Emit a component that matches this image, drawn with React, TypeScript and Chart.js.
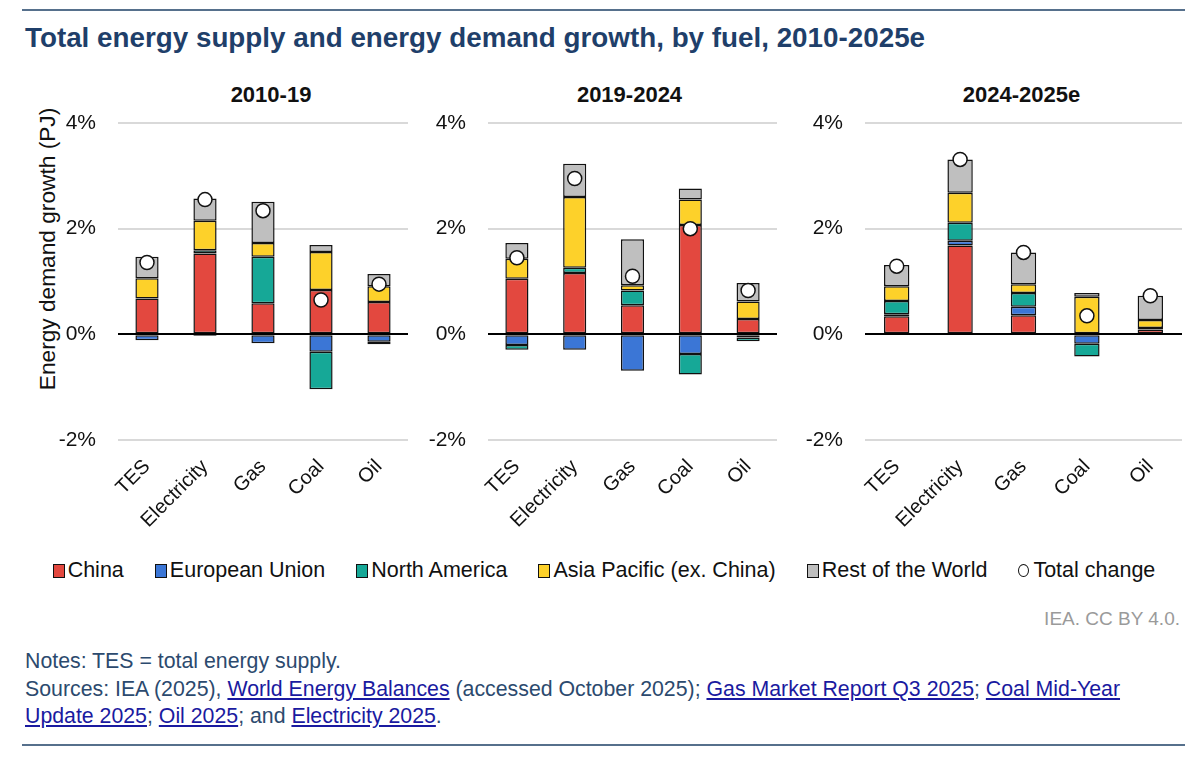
import React, { useEffect, useRef } from "react";
import { Chart, registerables } from "chart.js";
Chart.register(...registerables);

const categories = ["TES", "Electricity", "Gas", "Coal", "Oil"];
const periods = ["2010-19", "2019-2024", "2024-2025e"];
const regionNames = ["China", "European Union", "North America", "Asia Pacific (ex. China)", "Rest of the World"];
const regionColors = ["#E3483F", "#3B76D6", "#16A897", "#FDD12A", "#BFBFBF"];
const yTicks = [-2, 0, 2, 4];

// 2010-19
const china1 = [0.68, 1.53, 0.59, 0.84, 0.61];
const eu1 = [-0.11, -0.03, -0.17, -0.33, -0.14];
const na1 = [0, 0.06, 0.88, -0.71, -0.05];
const ap1 = [0.38, 0.56, 0.26, 0.72, 0.3];
const row1 = [0.41, 0.42, 0.78, 0.13, 0.23];
const total1 = [1.36, 2.55, 2.34, 0.65, 0.95];

// 2019-2024
const china2 = [1.05, 1.16, 0.55, 2.07, 0.29];
const eu2 = [-0.2, -0.29, -0.69, -0.37, -0.06];
const na2 = [-0.09, 0.1, 0.28, -0.39, -0.07];
const ap2 = [0.38, 1.34, 0.1, 0.48, 0.33];
const row2 = [0.3, 0.63, 0.87, 0.21, 0.35];
const total2 = [1.45, 2.95, 1.1, 2.0, 0.83];

// 2024-2025e
const china3 = [0.34, 1.68, 0.36, 0, 0.09];
const eu3 = [0.04, 0.09, 0.16, -0.18, 0.03];
const na3 = [0.25, 0.34, 0.26, -0.24, 0];
const ap3 = [0.28, 0.57, 0.17, 0.71, 0.15];
const row3 = [0.4, 0.63, 0.6, 0.07, 0.46];
const total3 = [1.29, 3.31, 1.55, 0.35, 0.73];

const panelData = [
  { regions: [china1, eu1, na1, ap1, row1], total: total1 },
  { regions: [china2, eu2, na2, ap2, row2], total: total2 },
  { regions: [china3, eu3, na3, ap3, row3], total: total3 },
];

const FONT = "'Liberation Sans', Arial, sans-serif";
const PLOT_TOP = 123;
const PLOT_H = 317;
const PAD_TOP = 20;
const XAXIS_H = 100;
const YAXIS_W = 80;

const panelsLayout = [
  { plotLeft: 118, plotW: 290, titleShift: 8 },
  { plotLeft: 488, plotW: 289, titleShift: -3 },
  { plotLeft: 865, plotW: 317, titleShift: -2 },
];

function Panel({ idx }: { idx: number }) {
  const ref = useRef<HTMLCanvasElement | null>(null);
  const lay = panelsLayout[idx];
  const data = panelData[idx];
  useEffect(() => {
    if (!ref.current) return;
    const datasets: any[] = data.regions.map((vals, i) => ({
      type: "bar",
      label: regionNames[i],
      data: vals,
      backgroundColor: regionColors[i],
      borderColor: "#111",
      borderWidth: 1.5,
      borderSkipped: false,
      stack: "regions",
      barPercentage: 0.4,
      categoryPercentage: 1.0,
      order: 2,
    }));
    datasets.push({
      type: "line",
      label: "Total change",
      data: data.total,
      showLine: false,
      pointRadius: 7,
      pointHoverRadius: 7,
      pointBackgroundColor: "#ffffff",
      pointBorderColor: "#111",
      pointBorderWidth: 1.5,
      stack: "total",
      order: 1,
      clip: false,
    });
    const chart = new Chart(ref.current, {
      type: "bar",
      data: { labels: categories, datasets },
      options: {
        animation: false,
        responsive: false,
        maintainAspectRatio: false,
        layout: { autoPadding: false, padding: { top: PAD_TOP, left: 0, right: 0, bottom: 0 } },
        plugins: { legend: { display: false }, tooltip: { enabled: false } },
        scales: {
          x: {
            stacked: true,
            grid: { display: false, drawTicks: false },
            border: { display: false },
            ticks: {
              font: { family: FONT, size: 20 },
              color: "#111",
              minRotation: 45,
              maxRotation: 45,
              padding: 15,
            },
            afterFit: (s: any) => {
              s.height = XAXIS_H;
              s.paddingLeft = 0;
              s.paddingRight = 0;
            },
          },
          y: {
            stacked: true,
            min: -2,
            max: 4,
            afterBuildTicks: (s: any) => {
              s.ticks = yTicks.map((v) => ({ value: v }));
            },
            grid: {
              drawTicks: false,
              color: (c: any) => (c.tick && c.tick.value === 0 ? "#000" : "#D9D9D9"),
              lineWidth: 2,
            },
            border: { display: false },
            ticks: {
              font: { family: FONT, size: 21 },
              color: "#111",
              padding: 22,
              callback: (v: any) => v + "%",
            },
            afterFit: (s: any) => {
              s.width = YAXIS_W;
              s.paddingTop = 0;
              s.paddingBottom = 0;
            },
          },
        },
      } as any,
    });
    return () => chart.destroy();
  }, []);
  const w = YAXIS_W + lay.plotW;
  const h = PAD_TOP + PLOT_H + XAXIS_H;
  return (
    <>
      <div
        style={{
          position: "absolute",
          left: lay.plotLeft + lay.titleShift,
          width: lay.plotW,
          top: 82,
          textAlign: "center",
          fontFamily: FONT,
          fontWeight: "bold",
          fontSize: 22,
          color: "#111",
        }}
      >
        {periods[idx]}
      </div>
      <canvas
        ref={ref}
        width={w}
        height={h}
        style={{ position: "absolute", left: lay.plotLeft - YAXIS_W, top: PLOT_TOP - PAD_TOP, width: w, height: h }}
      />
    </>
  );
}

const linkStyle: React.CSSProperties = { color: "#1A1AA0", textDecoration: "underline" };

export default function App() {
  return (
    <div
      style={{
        position: "absolute",
        left: 0,
        top: 0,
        width: 1200,
        height: 760,
        background: "#fff",
        fontFamily: FONT,
        overflow: "hidden",
      }}
    >
      <div style={{ position: "absolute", left: 22, top: 9, width: 1163, height: 2, background: "#56708C" }} />
      <div
        style={{
          position: "absolute",
          left: 25,
          top: 22,
          fontSize: 27.8,
          fontWeight: "bold",
          color: "#1F3F6A",
          whiteSpace: "nowrap",
        }}
      >
        Total energy supply and energy demand growth, by fuel, 2010-2025e
      </div>
      <div
        style={{
          position: "absolute",
          left: 48 - 160,
          top: 249 - 14,
          width: 320,
          height: 28,
          textAlign: "center",
          transform: "rotate(-90deg)",
          fontSize: 22.7,
          color: "#111",
          whiteSpace: "nowrap",
        }}
      >
        Energy demand growth (PJ)
      </div>
      <Panel idx={0} />
      <Panel idx={1} />
      <Panel idx={2} />
      <div
        style={{
          position: "absolute",
          left: 0,
          width: 1208,
          top: 558,
          display: "flex",
          justifyContent: "center",
          gap: 31,
          fontSize: 21.5,
          color: "#111",
          whiteSpace: "nowrap",
        }}
      >
        {regionNames.map((n, i) => (
          <div key={n} style={{ display: "flex", alignItems: "center" }}>
            <span
              style={{
                display: "inline-block",
                width: 10,
                height: 12,
                background: regionColors[i],
                border: "1.5px solid #111",
                marginRight: 3,
              }}
            />
            {n}
          </div>
        ))}
        <div style={{ display: "flex", alignItems: "center" }}>
          <span
            style={{
              display: "inline-block",
              width: 9,
              height: 11,
              borderRadius: "50%",
              background: "#fff",
              border: "1.5px solid #111",
              marginRight: 4,
            }}
          />
          Total change
        </div>
      </div>
      <div style={{ position: "absolute", right: 20, top: 608, fontSize: 19, color: "#9A9A9A" }}>IEA. CC BY 4.0.</div>
      <div style={{ position: "absolute", left: 25, top: 648, fontSize: 21.3, color: "#2C4A6E", lineHeight: "27px", width: 1170 }}>
        <div>Notes: TES = total energy supply.</div>
        <div style={{ marginTop: 1 }}>
          Sources: IEA (2025), <span style={linkStyle}>World Energy Balances</span> (accessed October 2025);{" "}
          <span style={linkStyle}>Gas Market Report Q3 2025</span>; <span style={linkStyle}>Coal Mid-Year</span>
          <br />
          <span style={linkStyle}>Update 2025</span>; <span style={linkStyle}>Oil 2025</span>; and{" "}
          <span style={linkStyle}>Electricity 2025</span>.
        </div>
      </div>
      <div style={{ position: "absolute", left: 22, top: 744, width: 1163, height: 2, background: "#56708C" }} />
    </div>
  );
}
